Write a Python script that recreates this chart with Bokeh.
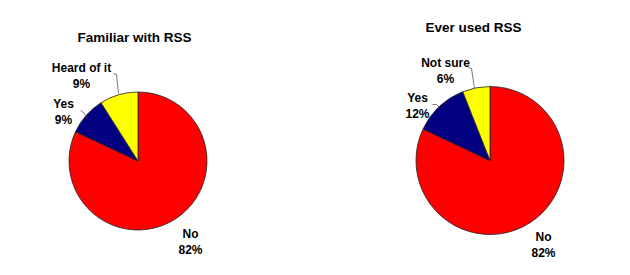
import numpy as np
from bokeh.plotting import figure
from bokeh.models import Range1d
from bokeh.core.properties import value
from bokeh.embed import file_html
from bokeh.resources import INLINE

# ---- data ----
titles = ["Familiar with RSS", "Ever used RSS"]
labels_left = ["No", "Yes", "Heard of it"]
values_left = [82, 9, 9]
labels_right = ["No", "Yes", "Not sure"]
values_right = [82, 12, 6]
colors = ["#FF0000", "#000080", "#FFFF00"]

W, H = 630, 275
p = figure(width=W, height=H, output_backend="svg", toolbar_location=None,
           x_range=Range1d(0, W), y_range=Range1d(0, H), min_border=0)
p.axis.visible = False
p.grid.visible = False
p.outline_line_color = None
p.background_fill_color = "white"
p.border_fill_color = "white"

def Y(py):
    return H - py

FONT = value("Liberation Sans")

pies = [
    dict(cx=137.5, cy=160.5, r=69, title_xy=(134, 37),
         lab=[(190, 233), (63, 103), (81, 67)],
         leaders=[None, [(80, 110), (84, 113), (87, 118)], [(113, 73), (116, 74), (118, 93)]]),
    dict(cx=489.5, cy=160, r=74, title_xy=(473, 27),
         lab=[(543, 236), (417, 97), (445, 62)],
         leaders=[None, [(432, 104), (436, 104), (439, 107)], [(468, 67), (471, 68), (474, 88)]]),
]

for pie, title, labs, vals in zip(pies, titles, [labels_left, labels_right], [values_left, values_right]):
    v = np.array(vals, dtype=float)
    frac = v / v.sum()
    ends = np.pi / 2 - 2 * np.pi * np.cumsum(frac)
    starts = np.concatenate([[np.pi / 2], ends[:-1]])
    p.wedge(x=pie["cx"], y=Y(pie["cy"]), radius=pie["r"],
            start_angle=list(starts), end_angle=list(ends), direction="clock",
            fill_color=colors, line_color="#202020", line_width=0.8)
    p.text(x=[pie["title_xy"][0]], y=[Y(pie["title_xy"][1])], text=[title],
           text_font=FONT, text_font_style="bold", text_font_size="13.5px",
           text_align="center", text_baseline="middle", text_color="black")
    for (lx, ly), name, val, lead in zip(pie["lab"], labs, vals, pie["leaders"]):
        p.text(x=[lx, lx], y=[Y(ly), Y(ly + 16)], text=[name, f"{val}%"],
               text_font=FONT, text_font_style="bold", text_font_size="12px",
               text_align="center", text_baseline="middle", text_color="black")
        if lead:
            p.line(x=[q[0] for q in lead], y=[Y(q[1]) for q in lead],
                   line_color="#555555", line_width=0.8)

open("out.html", "w").write(file_html(p, INLINE))
